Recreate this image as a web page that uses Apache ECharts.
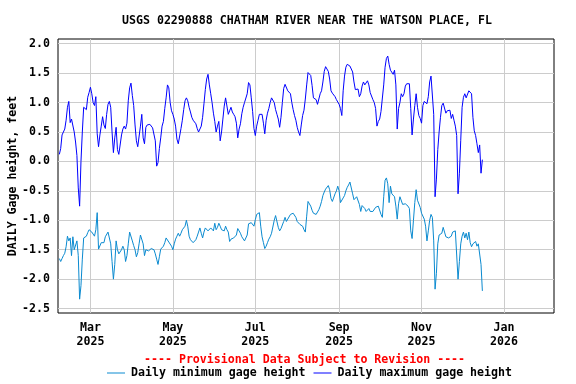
<!DOCTYPE html>
<html>
<head>
<meta charset="utf-8">
<script src="https://cdn.jsdelivr.net/npm/echarts@6/dist/echarts.min.js"></script>
<style>html,body{margin:0;padding:0;background:#fff}#c{width:576px;height:384px}</style>
</head>
<body>
<div id="c"></div>
<script>
const chartTitle = 'USGS 02290888 CHATHAM RIVER NEAR THE WATSON PLACE, FL';
const noteText = '---- Provisional Data Subject to Revision ----';
const yAxisName = 'DAILY Gage height, feet';
const seriesNames = ['Daily minimum gage height', 'Daily maximum gage height'];
const axisStart = '2025-02-05';
const axisEnd = '2026-02-07';
const firstDataDate = '2025-02-06';
const tickMonths = [3, 5, 7, 9, 11, 1];
const monthNames = ['Jan','Feb','Mar','Apr','May','Jun','Jul','Aug','Sep','Oct','Nov','Dec'];
const yMin = -2.575, yMax = 2.08;

const maxVals = [0.12,0.22,0.45,0.5,0.55,0.7,0.92,1.02,0.66,0.72,0.7,0.5,0.33,0.1,-0.45,-0.76,0.0,0.5,0.92,0.95,
0.88,1.09,1.17,1.26,1.15,1.0,0.95,1.1,0.47,0.25,0.45,0.6,0.76,0.62,0.56,0.8,0.97,1.02,0.92,0.5,
0.15,0.4,0.58,0.2,0.12,0.12,0.45,0.55,0.6,0.55,0.65,1.03,1.25,1.33,1.12,0.95,0.62,0.35,0.25,0.25,
0.6,0.8,0.4,0.3,0.58,0.62,0.63,0.63,0.6,0.57,0.57,0.35,-0.08,-0.02,0.22,0.4,0.6,0.68,0.9,1.08,
1.3,1.25,1.0,0.86,0.8,0.72,0.6,0.38,0.3,0.3,0.56,0.7,0.88,1.03,1.08,1.03,0.92,0.84,0.75,0.7,
0.68,0.64,0.56,0.5,0.48,0.6,0.75,0.98,1.22,1.4,1.48,1.3,1.15,1.0,0.82,0.68,0.5,0.6,0.68,0.35,
0.5,0.72,0.94,1.08,1.05,0.8,0.86,0.92,0.84,0.8,0.76,0.65,0.4,0.55,0.64,0.81,0.92,1.0,1.0,1.15,
1.34,1.3,1.08,0.85,0.56,0.44,0.6,0.7,0.8,0.78,0.8,0.65,0.47,0.7,0.82,0.9,1.0,1.08,1.07,1.0,
0.88,0.8,0.72,0.58,0.75,1.0,1.24,1.31,1.29,1.2,1.23,1.15,1.0,0.88,0.78,0.7,0.58,0.5,0.44,0.62,
0.78,0.87,1.06,1.3,1.51,1.54,1.46,1.29,1.08,1.05,1.05,0.97,1.0,1.15,1.2,1.35,1.53,1.61,1.63,1.53,
1.4,1.2,1.16,1.15,1.1,1.05,1.02,0.97,0.9,0.78,1.2,1.45,1.6,1.65,1.68,1.62,1.6,1.52,1.35,1.22,
1.24,1.23,1.1,1.15,1.28,1.35,1.3,1.33,1.37,1.3,1.17,1.15,1.05,1.0,0.9,0.6,0.68,0.72,0.85,0.82,
1.3,1.6,1.75,1.79,1.65,1.55,1.58,1.48,1.55,1.3,0.55,0.9,1.0,1.15,1.1,1.15,1.28,1.32,1.33,1.32,
0.9,0.45,0.72,0.95,1.15,0.92,0.78,0.73,0.65,0.95,1.02,1.0,0.98,1.1,1.35,1.45,1.43,0.8,-0.6,-0.3,
0.2,0.5,0.75,0.95,0.99,0.99,0.82,0.86,0.89,0.87,0.73,0.8,0.7,0.6,0.44,-0.55,-0.2,0.36,0.92,1.09,
1.15,1.08,1.1,1.2,1.21,1.15,0.75,0.52,0.44,0.3,0.15,0.28,-0.2,0.03];

const minVals = [-1.65,-1.7,-1.65,-1.6,-1.56,-1.45,-1.27,-1.35,-1.3,-1.6,-1.28,-1.5,-1.52,-1.35,-1.6,-2.34,-2.11,-1.66,-1.3,-1.27,
-1.27,-1.21,-1.16,-1.13,-1.2,-1.23,-1.27,-1.16,-0.87,-1.49,-1.46,-1.38,-1.35,-1.38,-1.28,-1.27,-1.2,-1.18,-1.4,-1.7,
-2.0,-1.75,-1.35,-1.5,-1.57,-1.55,-1.5,-1.44,-1.5,-1.7,-1.6,-1.4,-1.2,-1.2,-1.35,-1.43,-1.5,-1.62,-1.55,-1.4,
-1.25,-1.25,-1.4,-1.6,-1.5,-1.47,-1.52,-1.5,-1.48,-1.48,-1.5,-1.57,-1.66,-1.75,-1.62,-1.49,-1.47,-1.44,-1.38,-1.3,
-1.33,-1.37,-1.4,-1.44,-1.5,-1.4,-1.32,-1.27,-1.22,-1.27,-1.22,-1.16,-1.16,-1.1,-1.0,-1.1,-1.27,-1.33,-1.35,-1.38,
-1.35,-1.33,-1.27,-1.2,-1.13,-1.22,-1.3,-1.2,-1.13,-1.16,-1.18,-1.18,-1.13,-1.16,-1.18,-1.05,-1.16,-1.12,-1.05,-1.1,
-1.16,-1.14,-1.18,-1.1,-1.16,-1.2,-1.36,-1.32,-1.3,-1.3,-1.31,-1.25,-1.14,-1.17,-1.22,-1.28,-1.31,-1.35,-1.35,-1.25,
-1.06,-1.03,-1.04,-1.06,-1.1,-0.99,-0.9,-0.88,-0.87,-1.1,-1.28,-1.38,-1.48,-1.44,-1.38,-1.32,-1.28,-1.22,-1.2,-1.0,
-0.92,-0.95,-1.12,-1.18,-1.14,-1.14,-1.02,-0.95,-1.02,-0.98,-0.99,-0.9,-0.89,-0.88,-0.9,-0.95,-1.02,-1.04,-1.07,-1.07,
-1.1,-1.16,-1.2,-0.93,-0.68,-0.7,-0.76,-0.83,-0.88,-0.85,-0.9,-0.92,-0.82,-0.76,-0.68,-0.58,-0.52,-0.47,-0.5,-0.41,
-0.48,-0.63,-0.68,-0.65,-0.55,-0.5,-0.42,-0.5,-0.7,-0.72,-0.62,-0.58,-0.5,-0.44,-0.4,-0.35,-0.35,-0.55,-0.65,-0.63,
-0.6,-0.6,-0.73,-0.85,-0.75,-0.76,-0.8,-0.85,-0.83,-0.8,-0.85,-0.82,-0.85,-0.82,-0.78,-0.8,-0.76,-0.75,-0.9,-0.95,
-0.6,-0.32,-0.28,-0.38,-0.7,-0.42,-0.55,-0.55,-0.6,-0.76,-0.98,-0.72,-0.6,-0.58,-0.73,-0.72,-0.72,-0.74,-0.76,-0.8,
-1.18,-1.31,-1.0,-0.7,-0.48,-0.66,-0.68,-0.78,-0.88,-0.85,-0.98,-1.1,-1.35,-1.18,-1.0,-0.9,-0.95,-1.35,-2.17,-1.9,
-1.4,-1.25,-1.25,-1.22,-1.12,-1.2,-1.28,-1.3,-1.3,-1.29,-1.27,-1.2,-1.23,-1.18,-1.2,-2.0,-1.7,-1.4,-1.27,-1.2,
-1.3,-1.22,-1.33,-1.2,-1.38,-1.45,-1.4,-1.4,-1.36,-1.44,-1.4,-1.4,-1.75,-2.2];

// build daily category axis
const DAY = 86400000;
function parseD(s){ const p = s.split('-').map(Number); return Date.UTC(p[0], p[1]-1, p[2]); }
function fmt(t){ const d = new Date(t); return d.getUTCFullYear() + '-' + String(d.getUTCMonth()+1).padStart(2,'0') + '-' + String(d.getUTCDate()).padStart(2,'0'); }
const categories = [];
for (let t = parseD(axisStart); t <= parseD(axisEnd); t += DAY) categories.push(fmt(t));
const offset = Math.round((parseD(firstDataDate) - parseD(axisStart)) / DAY);
const pad = new Array(offset).fill(null);
const minSeries = pad.concat(minVals);
const maxSeries = pad.concat(maxVals);

function isTick(idx){
  const c = categories[idx];
  if (!c) return false;
  const m = Number(c.slice(5,7)), d = Number(c.slice(8,10));
  return d === 1 && tickMonths.indexOf(m) >= 0;
}

const FONT = 'DejaVu Sans Mono';
const baseText = { fontFamily: FONT, fontWeight: 'bold', fontSize: 11.6, color: '#000' };
const minColor = '#0a8ad0', maxColor = '#0000ff';

const chart = echarts.init(document.getElementById('c'), null, { renderer: 'canvas' });
chart.setOption({
  animation: false,
  backgroundColor: '#fff',
  title: [
    { text: chartTitle, left: 122, top: 15, padding: 0, textStyle: Object.assign({}, baseText) },
    { text: noteText, left: 144, top: 354, padding: 0, textStyle: Object.assign({}, baseText, { color: '#ff0000' }) }
  ],
  legend: {
    data: [
      { name: seriesNames[0], icon: 'rect', itemStyle: { color: minColor } },
      { name: seriesNames[1], icon: 'rect', itemStyle: { color: maxColor } }
    ],
    left: 107, top: 367, padding: 0,
    itemWidth: 18, itemHeight: 1, itemGap: 8,
    textStyle: Object.assign({}, baseText, { padding: [0, 0, 0, 1] })
  },
  grid: { left: 58, right: 22, top: 39, bottom: 71, outerBoundsMode: 'none', containLabel: false,
          show: true, borderColor: '#000', borderWidth: 1, backgroundColor: 'transparent' },
  xAxis: {
    type: 'category',
    data: categories,
    boundaryGap: false,
    axisLine: { show: false },
    axisTick: { show: false },
    axisLabel: {
      interval: function(i){ return isTick(i); },
      formatter: function(v){ const m = Number(v.slice(5,7)); return monthNames[m-1] + '\n' + v.slice(0,4); },
      margin: 8,
      lineHeight: 14,
      fontFamily: FONT, fontWeight: 'bold', fontSize: 11.6, color: '#000'
    },
    splitLine: { show: true, interval: function(i){ return isTick(i); }, lineStyle: { color: '#cccccc', width: 1 } }
  },
  yAxis: {
    type: 'value',
    min: yMin, max: yMax,
    splitNumber: 9,
    name: yAxisName,
    nameLocation: 'middle',
    nameGap: 39,
    nameMoveOverlap: false,
    nameTextStyle: Object.assign({}, baseText),
    axisLine: { show: false },
    axisTick: { show: false },
    axisLabel: {
      showMinLabel: false, showMaxLabel: false,
      margin: 8,
      formatter: function(v){ return Math.abs(v*2 - Math.round(v*2)) < 1e-6 ? v.toFixed(1) : ''; },
      fontFamily: FONT, fontWeight: 'bold', fontSize: 11.6, color: '#000'
    },
    splitLine: { show: true, showMinLine: false, showMaxLine: false, lineStyle: { color: '#cccccc', width: 1 } }
  },
  series: [
    { name: seriesNames[0], type: 'line', data: minSeries, symbol: 'none', showSymbol: false, connectNulls: false,
      lineStyle: { color: minColor, width: 1 }, itemStyle: { color: minColor } },
    { name: seriesNames[1], type: 'line', data: maxSeries, symbol: 'none', showSymbol: false, connectNulls: false,
      lineStyle: { color: maxColor, width: 1 }, itemStyle: { color: maxColor } }
  ]
});
</script>
</body>
</html>
